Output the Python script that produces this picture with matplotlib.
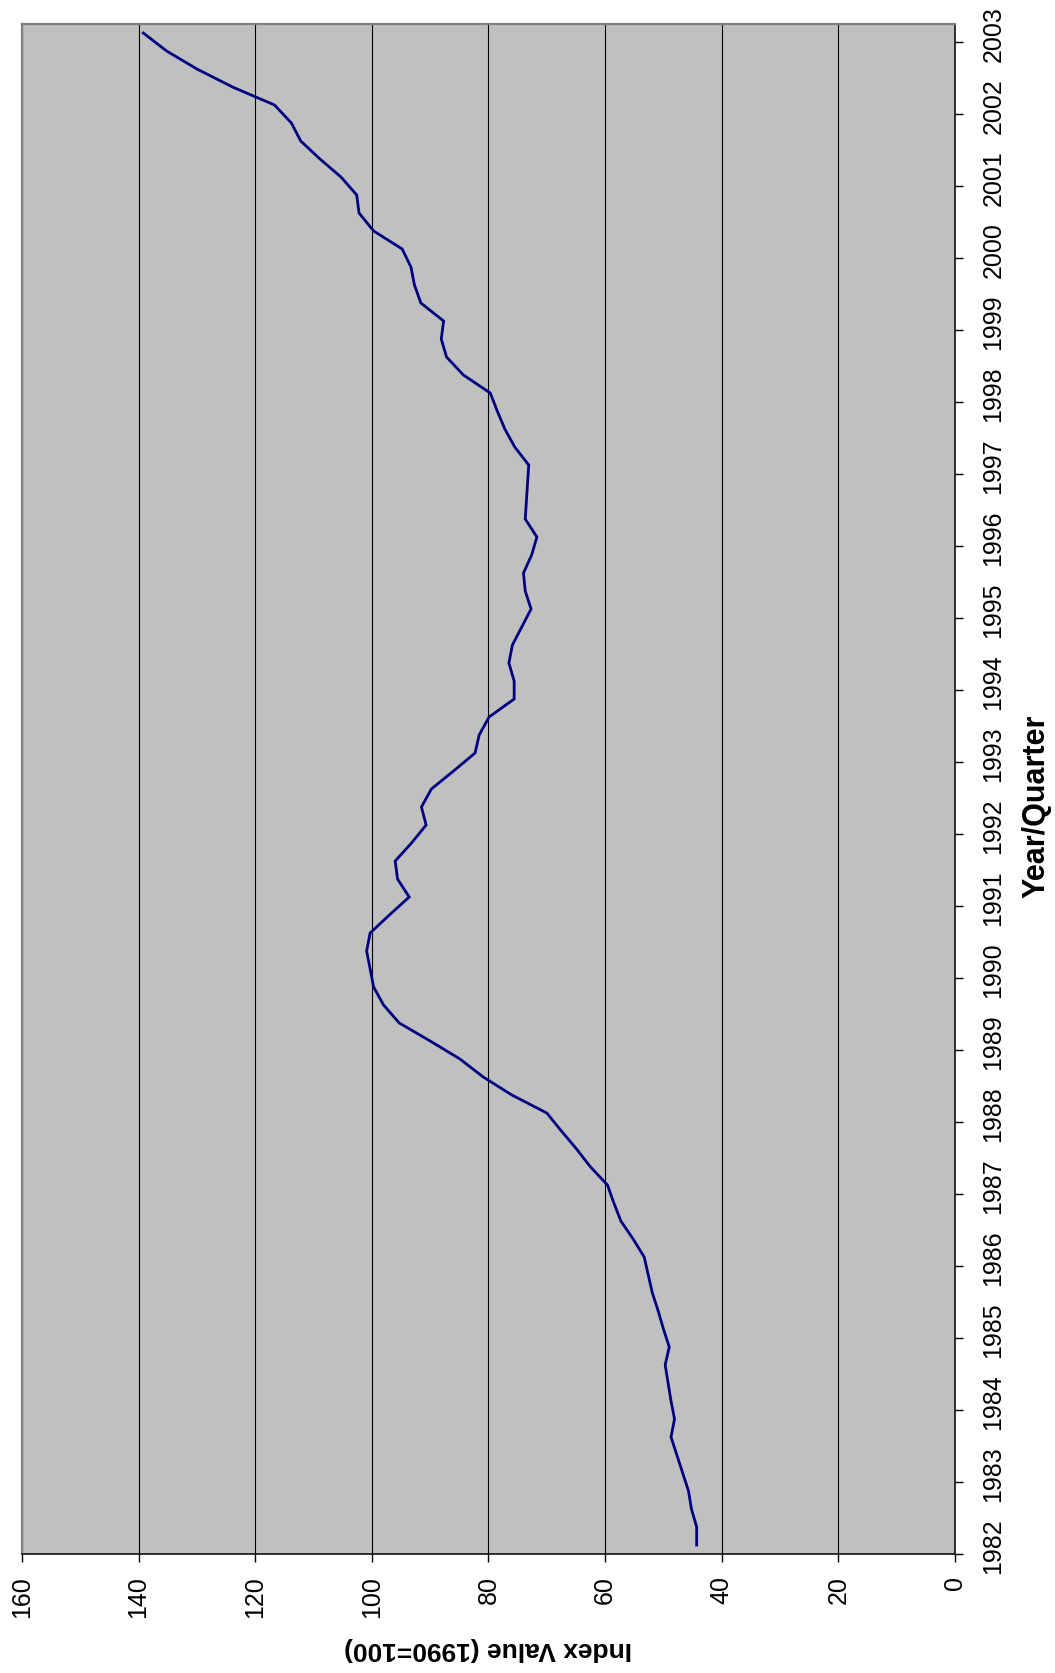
import numpy as np
import matplotlib
matplotlib.use("Agg")
import matplotlib.pyplot as plt

plt.rcParams['font.family'] = ['Liberation Sans', 'DejaVu Sans']

# quarterly index values, 1982 Q1 .. 2003 Q1 (1990 = 100)
years = list(range(1982, 2004))
index_values = [
  44.3, 44.3, 45.2, 45.7,   # 1982
  46.7, 47.7, 48.7, 48.1,   # 1983
  48.7, 49.2, 49.7, 49.0,   # 1984
  50.0, 50.9, 51.9, 52.6,   # 1985
  53.3, 55.2, 57.3, 58.5,   # 1986
  59.6, 62.5, 64.9, 67.5,   # 1987
  70.0, 76.0, 80.9, 84.9,   # 1988
  90.0, 95.3, 98.0, 99.7,   # 1989
  100.3, 100.9, 100.3, 97.0,  # 1990
  93.6, 95.6, 96.0, 93.2,   # 1991
  90.7, 91.5, 89.8, 86.0,   # 1992
  82.3, 81.6, 79.9, 75.6,   # 1993
  75.6, 76.5, 75.9, 74.3,   # 1994
  72.7, 73.7, 74.0, 72.6,   # 1995
  71.7, 73.7, 73.5, 73.3,   # 1996
  73.1, 75.5, 77.2, 78.5,   # 1997
  79.7, 84.3, 87.2, 88.1,   # 1998
  87.7, 91.6, 92.7, 93.3,   # 1999
  94.8, 99.7, 102.2, 102.6,  # 2000
  105.3, 108.9, 112.2, 113.8,  # 2001
  116.7, 123.9, 130.0, 135.2,  # 2002
  139.2,                    # 2003
]
value_ticks = [0, 20, 40, 60, 80, 100, 120, 140, 160]

W, H = 1055, 1674
fig = plt.figure(figsize=(W / 100, H / 100), dpi=100)
fig.patch.set_facecolor('white')

# chart is laid on its side: value runs right->left, time runs bottom->top
left, right, top, bottom = 22, 955, 25, 1555
ax = fig.add_axes([left / W, 1 - bottom / H, (right - left) / W, (bottom - top) / H])
ax.set_facecolor('#c0c0c0')

q = np.arange(len(index_values))
ax.plot(index_values, q, color='#000080', linewidth=2.0, solid_joinstyle='miter', zorder=3)

ax.set_xlim(160, 0)
ax.set_ylim(-0.5, len(index_values) - 0.5)

ax.set_xticks(value_ticks)
ax.set_xticklabels([str(v) for v in value_ticks], rotation=90)
ax.grid(axis='x', color='black', linewidth=0.8)
ax.set_axisbelow(True)

# year labels sit in the middle of the first quarter, tick marks between years
ax.yaxis.tick_right()
ax.set_yticks(np.arange(len(years)) * 4 - 0.5)
ax.set_yticklabels([])
ax.set_yticks(np.arange(len(years)) * 4, minor=True)
ax.set_yticklabels([str(y) for y in years], minor=True, rotation=90)

ax.tick_params(axis='x', which='major', direction='out', length=5.8, width=1,
               pad=9.5, labelsize=18)
ax.tick_params(axis='y', which='major', direction='out', length=5.8, width=1,
               right=True, left=False)
ax.tick_params(axis='y', which='minor', length=0, pad=19, labelsize=18,
               right=True, left=False, labelright=True, labelleft=False)
for lab in ax.get_yticklabels(minor=True):
  lab.set_verticalalignment('center')

for side in ['top', 'left']:
  ax.spines[side].set_color('#808080')
  ax.spines[side].set_linewidth(1.6)
for side in ['right', 'bottom']:
  ax.spines[side].set_color('black')
  ax.spines[side].set_linewidth(1.1)

fig.text(488 / W, 1 - 1649 / H, 'Index Value (1990=100)', rotation=180,
         ha='center', va='center', fontsize=19, fontweight='bold')
fig.text(1036 / W, 1 - 806 / H, 'Year/Quarter', rotation=90,
         ha='center', va='center', fontsize=22, fontweight='bold')

fig.savefig('out.png', dpi=100)
